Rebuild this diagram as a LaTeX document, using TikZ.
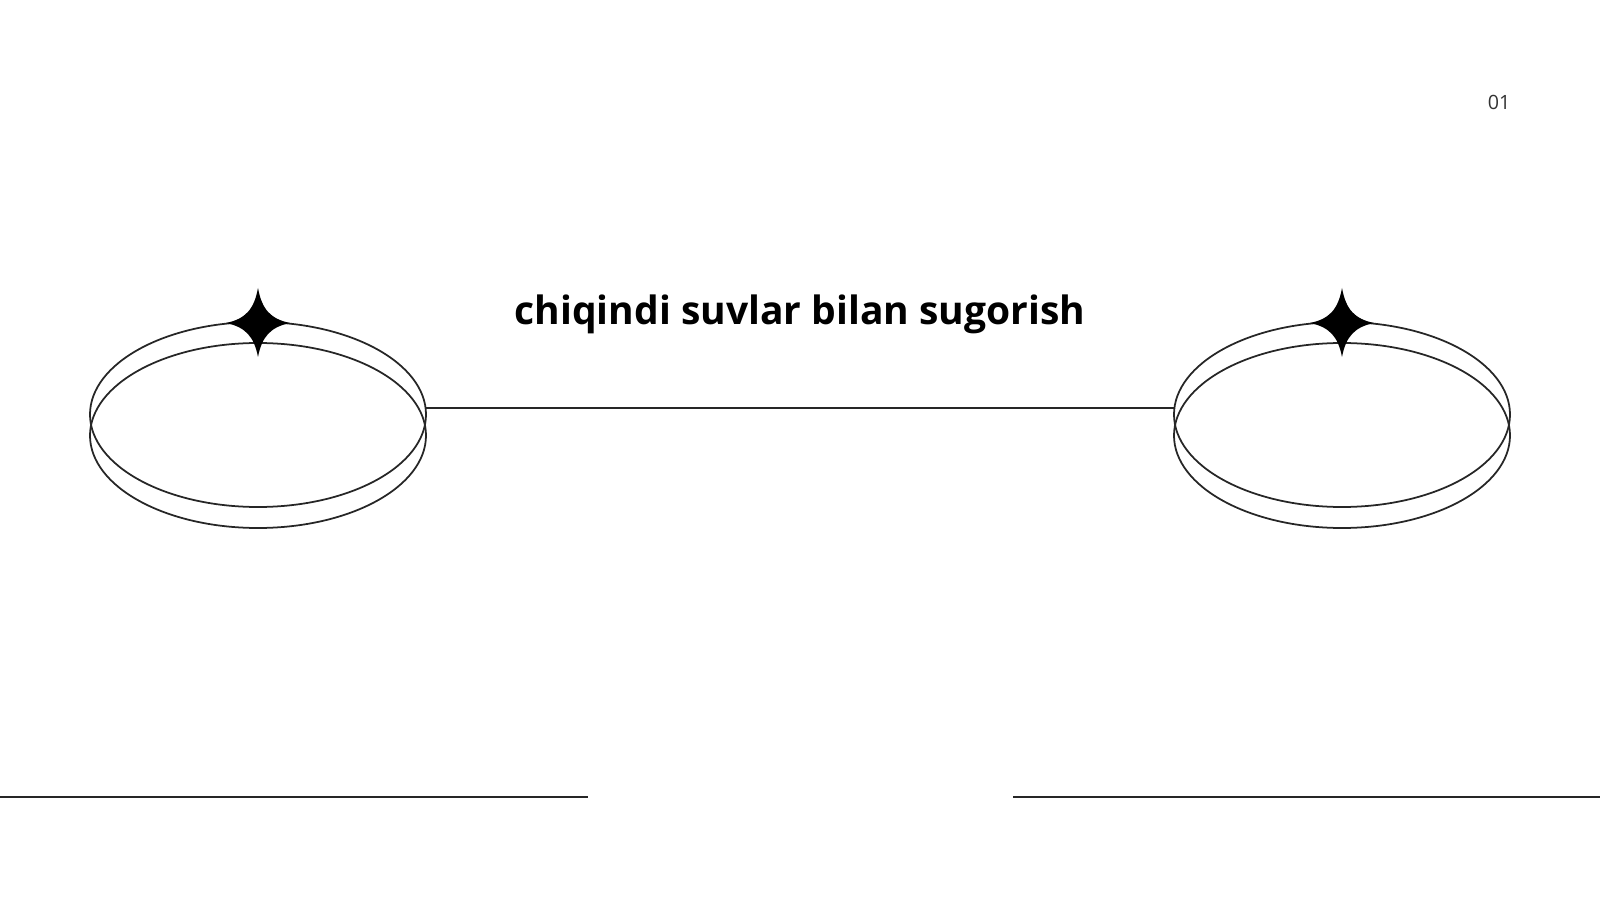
\documentclass[tikz,border=0pt]{standalone}
\usepackage{fontspec}
\setmainfont{Open Sans}
\usetikzlibrary{calc}

\tikzset{
  ring/.style={draw=black!85, line width=0.5pt},
  rule/.style={draw=black!85, line width=0.55pt},
  sparkle/.style={fill=black},
}
% four pointed star, drawn round the current origin
\newcommand\sparkpath{(0,-35) .. controls (4,-13) and (13,-4) .. (32,0)
  .. controls (13,4) and (4,13) .. (0,34)
  .. controls (-4,13) and (-13,4) .. (-32,0)
  .. controls (-13,-4) and (-4,-13) .. cycle}

\begin{document}
\begin{tikzpicture}[x=0.1mm, y=-0.1mm]
    \useasboundingbox (0,0) rectangle (1600,900); % page frame

    % left pair of rings
    \draw[ring] (258,414.5) ellipse [x radius=16.8mm, y radius=9.25mm];
    \draw[ring] (258,435.5) ellipse [x radius=16.8mm, y radius=9.25mm];
    \begin{scope}[shift={(258,323)}]
      \fill[sparkle] \sparkpath;
    \end{scope}

    % right pair of rings
    \draw[ring] (1342,414.5) ellipse [x radius=16.8mm, y radius=9.25mm];
    \draw[ring] (1342,435.5) ellipse [x radius=16.8mm, y radius=9.25mm];
    \begin{scope}[shift={(1342,323)}]
      \fill[sparkle] \sparkpath;
    \end{scope}

    % link between the rings
    \coordinate (leftend) at (425,408);
    \coordinate (rightend) at (1175,408);
    \draw[rule] (leftend) -- (rightend);

    \node (title) at (800,314) {\fontsize{11.1}{13}\selectfont\bfseries chiqindi suvlar bilan sugorish};
    \node[text=black!80] (pagenum) at (1499,102) {\fontsize{5.6}{7}\selectfont 01};

    % bottom rules
    \coordinate (baseA) at (0,797);
    \coordinate (baseB) at (588,797);
    \coordinate (baseC) at (1013,797);
    \coordinate (baseD) at (1600,797);
    \draw[rule] (baseA) -- (baseB);
    \draw[rule] (baseC) -- (baseD);
  \end{tikzpicture}
\end{document}
